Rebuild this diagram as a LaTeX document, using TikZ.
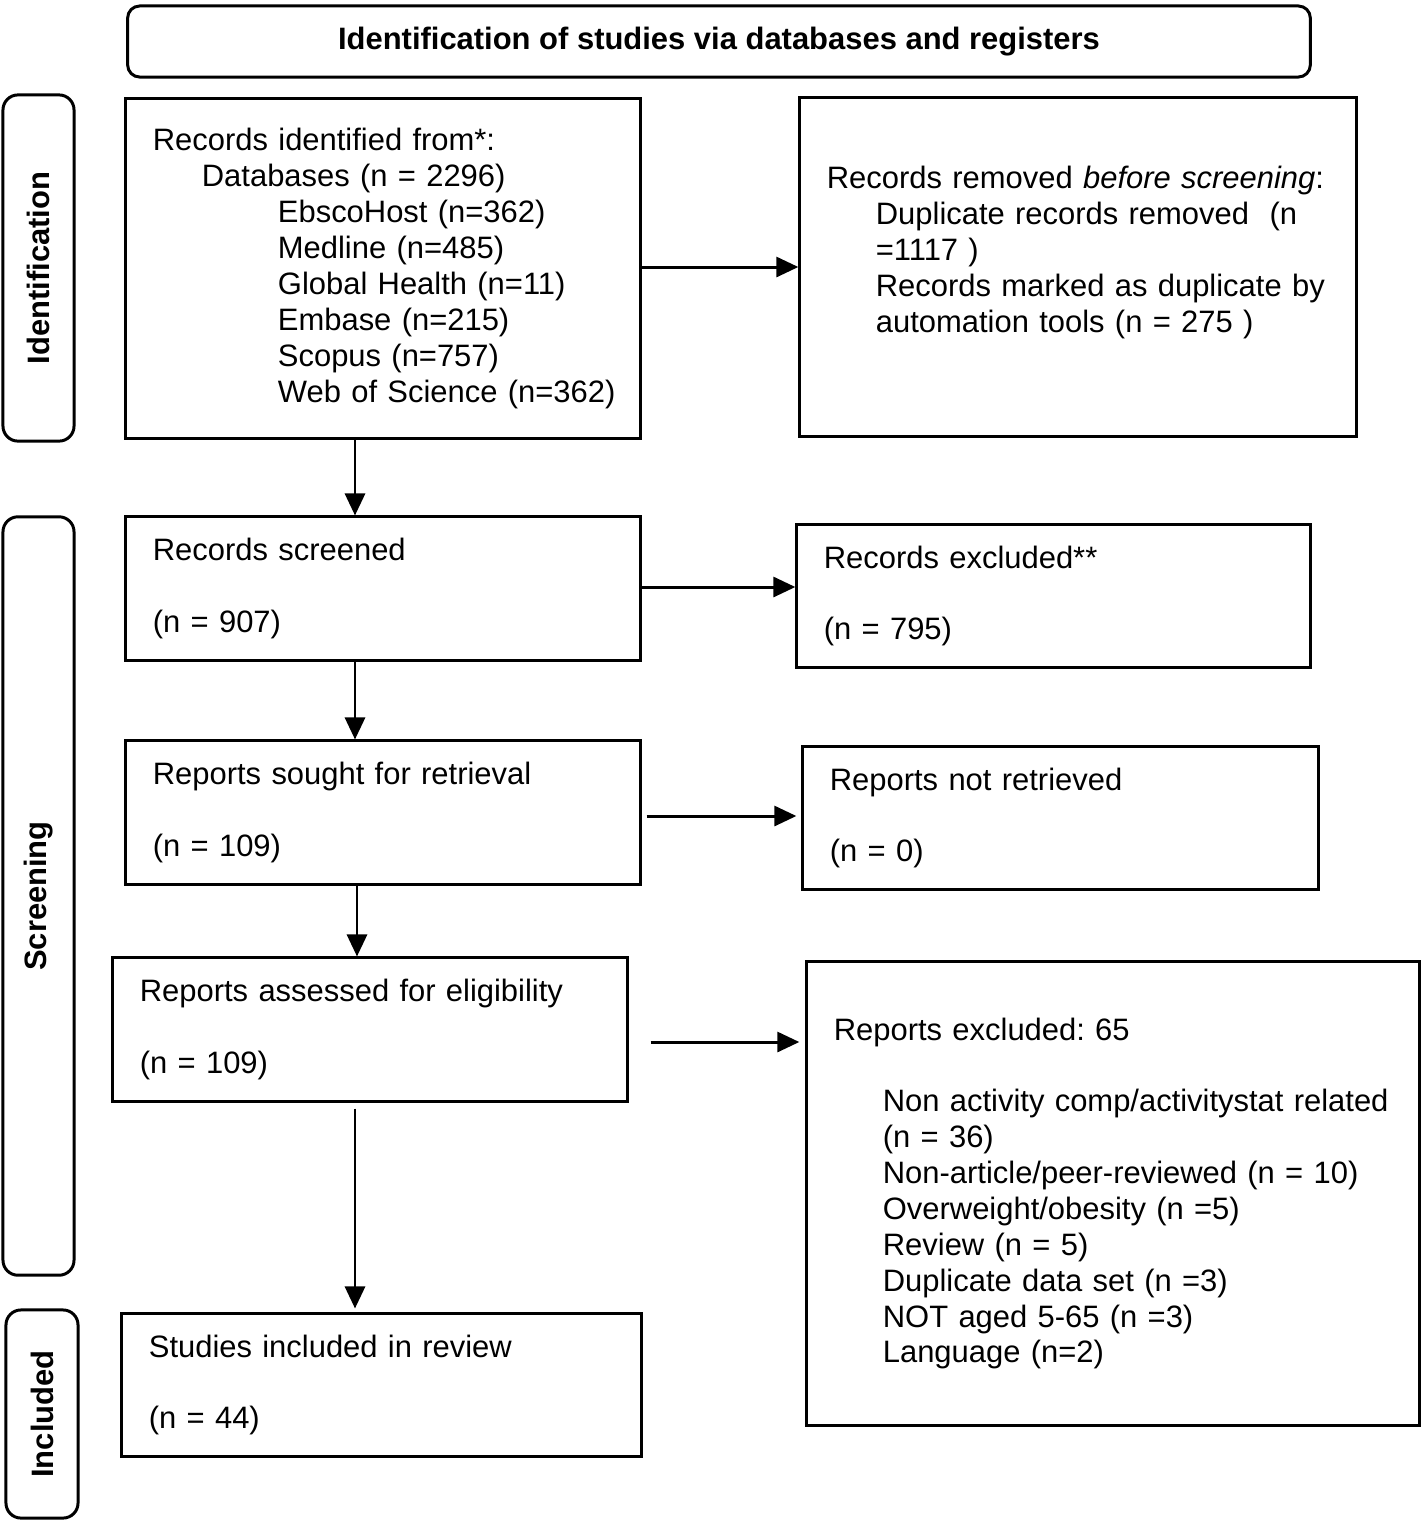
\documentclass[tikz,border=0pt]{standalone}
\usepackage{fontspec}
\setmainfont{Liberation Sans}
\usetikzlibrary{arrows.meta}
\newcommand{\fs}{\fontsize{8.8pt}{10.2pt}\selectfont\frenchspacing}
\newcommand{\ind}{\hspace*{0.49cm}}
\newcommand{\indd}{\hspace*{1.25cm}}

\tikzset{
  box/.style={draw, line width=0.85pt, align=left, inner xsep=0.27cm, inner ysep=0pt, font=\fs},
  sidebox/.style={draw, line width=0.85pt, rounded corners=0.15cm, rotate=90, inner sep=0pt, font=\fs\bfseries},
  arr/.style={line width=0.85pt, -{Triangle[length=0.22cm, width=0.2cm]}}
}

\begin{document}
\begin{tikzpicture}[x=0.01cm, y=-0.01cm]
            \useasboundingbox (0,0) rectangle (1423,1520);
            % header and phase labels
            \node[draw, line width=0.85pt, rounded corners=0.12cm, minimum width=11.82cm, minimum height=0.71cm, text depth=0.06cm, font=\fs\bfseries] (title) at (719,41.5) {Identification of studies via databases and registers};
            \node[sidebox, minimum width=3.46cm, minimum height=0.71cm] (idlab) at (38.5,268) {Identification};
            \node[sidebox, minimum width=7.58cm, minimum height=0.71cm] (scrlab) at (38.5,896) {Screening};
            \node[sidebox, minimum width=2.08cm, minimum height=0.72cm] (inclab) at (42,1414) {Included};
            % left column
            \node[box, text width=4.60cm, minimum height=3.39cm] (ident) at (383,268.5) {Records identified from*:\\
              \ind Databases (n = 2296)\\
              \indd EbscoHost (n=362)\\
              \indd Medline (n=485)\\
              \indd Global Health (n=11)\\
              \indd Embase (n=215)\\
              \indd Scopus (n=757)\\
              \indd \mbox{Web of Science (n=362)}\\[0.34cm]};
            \node[box, text width=4.60cm, minimum height=1.43cm] (screen) at (383,588.5) {Records screened\\~\\(n = 907)};
            \node[box, text width=4.60cm, minimum height=1.43cm] (sought) at (383,812.5) {Reports sought for retrieval\\~\\(n = 109)};
            \node[box, text width=4.60cm, minimum height=1.43cm] (assess) at (370,1029.5) {Reports assessed for eligibility\\~\\(n = 109)};
            \node[box, text width=4.65cm, minimum height=1.42cm] (incl) at (381.5,1385) {Studies included in review\\~\\(n = 44)};
            % right column
            \node[box, text width=5.02cm, minimum height=3.38cm] (removed) at (1078,267) {Records removed \textit{before screening}:\\
              \ind Duplicate records removed\ \ (n\\
              \ind =1117 )\\
              \ind \mbox{Records marked as duplicate by}\\
              \ind automation tools (n = 275 )\\~};
            \node[box, text width=4.59cm, minimum height=1.42cm] (excl) at (1053.5,596) {Records excluded**\\~\\(n = 795)};
            \node[box, text width=4.61cm, minimum height=1.42cm] (notret) at (1060.5,818) {Reports not retrieved\\~\\(n = 0)};
            \node[box, text width=5.58cm, minimum height=4.63cm] (repexcl) at (1113,1193.5) {Reports excluded: 65\\~\\
              \ind \mbox{Non activity comp/activitystat related}\\
              \ind (n = 36)\\
              \ind Non-article/peer-reviewed (n = 10)\\
              \ind Overweight/obesity (n =5)\\
              \ind Review (n = 5)\\
              \ind Duplicate data set (n =3)\\
              \ind NOT aged 5-65 (n =3)\\
              \ind Language (n=2)};
            % arrows
            \draw[arr] (ident.east |- removed.west) -- (removed.west);
            \draw[arr] (ident.south -| 355,0) -- (screen.north -| 355,0);
            \draw[arr] (screen.east |- 0,587) -- (excl.west |- 0,587);
            \draw[arr] (screen.south -| 355,0) -- (sought.north -| 355,0);
            \draw[arr, shorten <=0.05cm, shorten >=0.05cm] (sought.east |- 0,816) -- (notret.west |- 0,816);
            \draw[arr] (sought.south -| 357,0) -- (assess.north -| 357,0);
            \draw[arr, shorten <=0.22cm, shorten >=0.06cm] (assess.east |- 0,1042) -- (repexcl.west |- 0,1042);
            \draw[arr, shorten <=0.06cm, shorten >=0.04cm] (assess.south -| 355,0) -- (incl.north -| 355,0);
        \end{tikzpicture}
\end{document}
